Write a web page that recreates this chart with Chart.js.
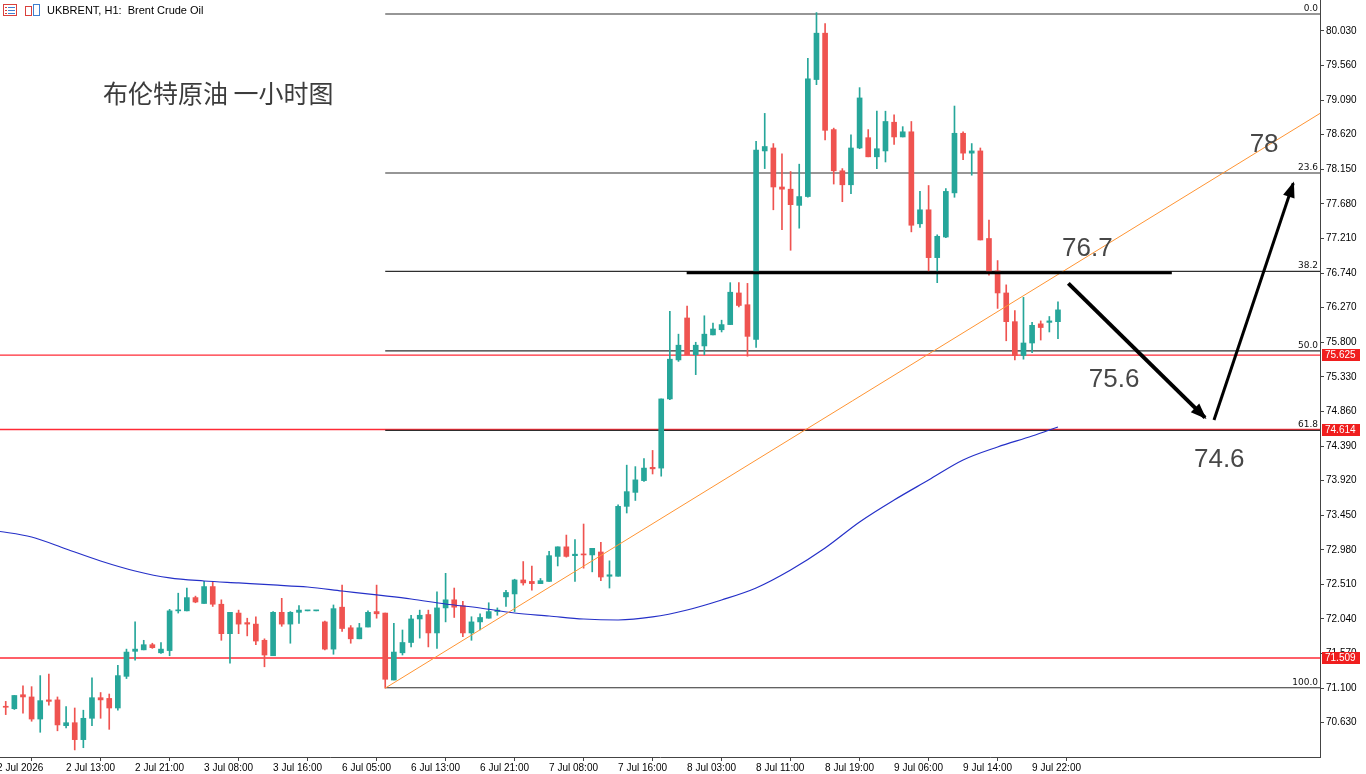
<!DOCTYPE html>
<html>
<head>
<meta charset="utf-8">
<script src="https://cdn.jsdelivr.net/npm/chart.js@4.4.1/dist/chart.umd.min.js"></script>
<style>
html, body { margin: 0; padding: 0; background: #fff; }
#wrap { width: 1366px; height: 774px; }
</style>
</head>
<body>
<div id="wrap"><canvas id="chart" width="1366" height="774"></canvas></div>
<script>
// UKBRENT H1 candles, bar 1 .. 123
const opens = [70.85,70.82,71.01,70.98,70.68,70.94,70.94,70.59,70.63,70.40,70.69,70.97,70.96,70.83,71.26,71.60,71.62,71.69,71.58,71.61,
  72.15,72.15,72.33,72.25,72.48,72.24,71.84,72.12,71.99,71.97,71.75,71.54,72.13,71.97,72.13,72.15,72.15,72.00,71.63,72.20,
  71.92,71.77,71.93,72.14,72.12,71.21,71.58,71.72,72.04,72.10,71.85,72.19,72.30,72.22,71.85,72.00,72.05,72.14,72.34,72.38,
  72.57,72.55,72.52,72.55,72.89,73.02,72.90,72.92,72.91,72.95,72.62,72.62,73.57,73.76,73.92,74.10,74.09,75.03,75.56,76.13,
  75.63,75.75,75.90,75.97,76.04,76.47,76.31,75.84,78.40,78.44,77.91,77.88,77.66,77.78,79.37,80.00,78.69,78.13,77.94,78.44,
  78.58,78.32,78.40,78.79,78.59,78.66,77.41,77.60,76.95,77.23,77.83,78.64,78.37,78.40,77.21,76.77,76.47,76.08,75.62,75.79,
  76.05,76.07,76.08];
const highs = [70.92,71.00,71.13,71.12,71.27,71.29,70.98,70.85,70.83,70.80,71.24,71.04,71.02,71.41,71.63,72.00,71.75,71.71,71.72,72.17,
  72.39,72.46,72.35,72.55,72.55,72.30,72.13,72.16,72.05,72.07,71.77,72.14,72.32,72.14,72.22,72.15,72.15,72.01,72.23,72.50,
  71.95,71.98,72.15,72.50,72.12,71.98,71.89,72.09,72.16,72.16,72.41,72.66,72.46,72.28,72.07,72.11,72.26,72.19,72.43,72.58,
  72.82,72.76,72.59,72.96,73.02,73.18,73.12,73.33,73.00,73.08,72.83,73.59,74.13,74.11,74.22,74.33,75.03,76.22,75.91,76.29,
  75.80,76.16,76.06,76.10,76.61,76.61,76.60,78.53,78.91,78.50,78.36,78.12,78.22,79.66,80.28,80.13,78.71,78.16,78.62,79.26,
  78.69,78.94,78.94,78.89,78.73,78.80,77.85,77.93,77.26,77.89,79.01,78.66,78.50,78.44,77.46,76.91,76.58,76.23,76.41,76.07,
  76.09,76.15,76.35];
const lows = [70.74,70.81,70.76,70.65,70.50,70.87,70.52,70.56,70.26,70.29,70.59,70.69,70.54,70.80,71.23,71.48,71.62,71.64,71.57,71.54,
  72.12,72.15,72.26,72.25,72.21,71.75,71.44,71.84,71.81,71.69,71.39,71.54,71.94,71.71,71.98,72.15,72.15,71.62,71.56,71.87,
  71.71,71.77,71.93,72.05,71.10,71.21,71.55,71.66,71.78,71.66,71.64,72.00,72.06,71.80,71.75,71.89,72.05,72.09,72.21,72.14,
  72.50,72.43,72.52,72.55,72.76,72.88,72.55,72.73,72.68,72.56,72.46,72.62,73.48,73.65,73.91,74.01,73.98,75.02,75.54,75.63,
  75.36,75.63,75.90,75.94,76.04,76.28,75.61,75.73,78.16,77.60,77.33,77.05,77.35,77.77,79.30,78.55,77.95,77.71,77.82,78.43,
  78.32,78.16,78.25,78.49,78.59,77.30,77.36,76.76,76.61,77.22,77.77,78.28,78.07,77.19,76.71,76.26,75.82,75.56,75.57,75.66,
  75.83,75.94,75.85];
const closes = [70.84,71.00,70.98,70.68,70.93,70.92,70.60,70.63,70.40,70.69,70.97,70.94,70.83,71.27,71.59,71.63,71.69,71.65,71.63,72.15,
  72.16,72.33,72.27,72.48,72.24,71.84,72.13,71.97,71.97,71.74,71.55,72.13,71.97,72.13,72.16,72.15,72.15,71.63,72.18,71.91,
  71.77,71.92,72.13,72.11,71.22,71.59,71.72,72.04,72.09,71.85,72.19,72.30,72.20,71.85,72.00,72.06,72.14,72.16,72.40,72.57,
  72.53,72.52,72.56,72.90,73.02,72.89,72.92,72.91,73.00,72.61,72.64,73.57,73.77,73.93,74.09,74.08,75.03,75.57,75.76,75.63,
  75.76,75.91,75.98,76.04,76.48,76.30,75.88,78.41,78.46,77.91,77.88,77.67,77.78,79.38,80.00,78.68,78.13,77.94,78.44,79.12,
  78.32,78.43,78.80,78.59,78.66,77.39,77.60,76.95,77.24,77.85,78.64,78.37,78.40,77.19,76.76,76.47,76.08,75.62,75.79,76.03,
  76.00,76.09,76.24];

// blue moving average, sampled every few bars
const maBars = [0,4,8,12,16,20,24,28,32,36,40,44,48,52,56,60,64,68,72,76,80,84,88,92,96,100,104,108,112,116,120,123];
const maValues = [73.235,73.154,72.991,72.828,72.692,72.597,72.556,72.529,72.502,72.474,72.420,72.366,72.311,72.243,72.189,72.121,
  72.080,72.039,72.026,72.067,72.162,72.298,72.461,72.705,73.004,73.358,73.656,73.928,74.200,74.377,74.526,74.649];

// axis ticks
const tickBars = [0,8,16,24,32,40,48,56,64,72,80,88,96,104,112,120];
const tickLabels = ['2 Jul 2026','2 Jul 13:00','2 Jul 21:00','3 Jul 08:00','3 Jul 16:00','6 Jul 05:00','6 Jul 13:00','6 Jul 21:00',
  '7 Jul 08:00','7 Jul 16:00','8 Jul 03:00','8 Jul 11:00','8 Jul 19:00','9 Jul 06:00','9 Jul 14:00','9 Jul 22:00'];
const yTicks = [70.63,71.10,71.57,72.04,72.51,72.98,73.45,73.92,74.39,74.86,75.33,75.80,76.27,76.74,77.21,77.68,78.15,78.62,79.09,79.56,80.03];

// fibonacci retracement from the 6 Jul low to the 8 Jul high
const fibLabels = ['0.0','23.6','38.2','50.0','61.8','100.0'];
const fibPrices = [80.261,78.100,76.763,75.683,74.603,71.105];
const fibStartBar = 45;

// horizontal price lines with their axis tags
const priceLines = [75.625, 74.614, 71.509];

// trend line from the low, resistance bar, forecast arrows
const trendBars = [45, 153.38];
const trendPrices = [71.10, 78.91];
const resistBars = [79.95, 136.2];
const resistPrice = 76.745;
const arrowBars = [[124.2, 140.05], [141.09, 150.28]];
const arrowPrices = [[76.60, 74.775], [74.744, 77.96]];
const noteTexts = ['76.7', '75.6', '74.6', '78'];
const noteBars = [126.4, 129.5, 141.7, 146.9];
const notePrices = [77.067, 75.287, 74.20, 78.481];

const X_MIN = 0.336, X_MAX = 153.38;
const UP = '#26a69a', DOWN = '#ef5350';
const AXIS_FONT = { family: 'Liberation Sans', size: 10 };

const candleColors = closes.map((c, i) => c >= opens[i] ? UP : DOWN);
const bodies = opens.map((o, i) => ({ x: i + 1, y: [o, closes[i]] }));
const wicks = lows.map((l, i) => ({ x: i + 1, y: [l, highs[i]] }));

function hLine(x0, x1, y) {
    return [{ x: x0, y: y }, { x: x1, y: y }];
}

const datasets = [];

fibPrices.forEach((p) => {
    datasets.push({ type: 'line', data: hLine(fibStartBar, X_MAX, p), borderColor: '#2e2e2e', borderWidth: 1.2,
        pointRadius: 0, order: 20 });
});
priceLines.forEach((p) => {
    datasets.push({ type: 'line', data: hLine(X_MIN, X_MAX, p), borderColor: '#ff2a36',
        borderWidth: 1.4, pointRadius: 0, order: 21 });
});

datasets.push({ type: 'bar', data: wicks, backgroundColor: candleColors, barThickness: 1, grouped: false, order: 11 });
datasets.push({ type: 'bar', data: bodies, backgroundColor: candleColors, barThickness: 5, minBarLength: 1,
    grouped: false, order: 10 });

datasets.push({ type: 'line', data: maBars.map((b, i) => ({ x: b, y: maValues[i] })), borderColor: '#2530c8',
    borderWidth: 1.2, pointRadius: 0, cubicInterpolationMode: 'monotone', order: 5 });
datasets.push({ type: 'line', data: trendBars.map((b, i) => ({ x: b, y: trendPrices[i] })), borderColor: '#ff9433',
    borderWidth: 1, pointRadius: 0, order: 4 });
datasets.push({ type: 'line', data: hLine(resistBars[0], resistBars[1], resistPrice), borderColor: '#000',
    borderWidth: 3, pointRadius: 0, order: 3 });
arrowBars.forEach((bars, k) => {
    datasets.push({ type: 'line', data: bars.map((b, i) => ({ x: b, y: arrowPrices[k][i] })), borderColor: '#000',
        borderWidth: k === 0 ? 4 : 3, pointRadius: 0, order: 2 });
});

// overlay: fib labels, price tags, notes, arrow heads, header
const overlay = {
    id: 'overlay',
    afterDraw(chart) {
        const ctx = chart.ctx;
        const xs = chart.scales.x, ys = chart.scales.y;
        const area = chart.chartArea;
        ctx.save();

        // fib level captions
        ctx.font = '9px "DejaVu Sans"';
        ctx.fillStyle = '#111';
        ctx.textAlign = 'right';
        ctx.textBaseline = 'alphabetic';
        fibPrices.forEach((p, i) => {
            ctx.fillText(fibLabels[i], area.right - 2, ys.getPixelForValue(p) - 3);
        });

        // arrow heads
        arrowBars.forEach((bars, k) => {
            const x0 = xs.getPixelForValue(bars[0]), y0 = ys.getPixelForValue(arrowPrices[k][0]);
            const x1 = xs.getPixelForValue(bars[1]), y1 = ys.getPixelForValue(arrowPrices[k][1]);
            const a = Math.atan2(y1 - y0, x1 - x0);
            const len = 14, half = 6;
            ctx.beginPath();
            ctx.moveTo(x1 + 2 * Math.cos(a), y1 + 2 * Math.sin(a));
            ctx.lineTo(x1 - len * Math.cos(a) + half * Math.sin(a), y1 - len * Math.sin(a) - half * Math.cos(a));
            ctx.lineTo(x1 - len * Math.cos(a) - half * Math.sin(a), y1 - len * Math.sin(a) + half * Math.cos(a));
            ctx.closePath();
            ctx.fillStyle = '#000';
            ctx.fill();
        });

        // price notes
        ctx.font = '26px "Liberation Sans"';
        ctx.fillStyle = '#474747';
        ctx.textAlign = 'center';
        ctx.textBaseline = 'middle';
        noteTexts.forEach((t, i) => {
            ctx.fillText(t, xs.getPixelForValue(noteBars[i]), ys.getPixelForValue(notePrices[i]));
        });

        // red tags on the price axis
        ctx.font = '10px "Liberation Sans"';
        ctx.textAlign = 'left';
        priceLines.forEach((p) => {
            const y = Math.round(ys.getPixelForValue(p));
            ctx.fillStyle = '#f01e1e';
            ctx.fillRect(area.right + 2, y - 6, 38, 12);
            ctx.fillStyle = '#fff';
            ctx.fillText(p.toFixed(3), area.right + 5, y + 0.5);
        });

        // header icons and title
        ctx.lineWidth = 1;
        ctx.strokeStyle = '#d9403c';
        ctx.strokeRect(3.5, 4.5, 13, 11);
        ctx.fillStyle = '#3f7fd0';
        ctx.fillRect(8, 7, 7, 1);
        ctx.fillRect(8, 10, 7, 1);
        ctx.fillRect(8, 13, 7, 1);
        ctx.fillStyle = '#d9403c';
        ctx.fillRect(5, 7, 2, 1);
        ctx.fillRect(5, 10, 2, 1);
        ctx.fillRect(5, 13, 2, 1);
        ctx.strokeStyle = '#d9403c';
        ctx.strokeRect(25.5, 6.5, 6, 9);
        ctx.strokeStyle = '#3f7fd0';
        ctx.strokeRect(33.5, 4.5, 6, 11);

        ctx.fillStyle = '#000';
        ctx.font = '11px "Liberation Sans"';
        ctx.textBaseline = 'middle';
        ctx.fillText('UKBRENT, H1:  Brent Crude Oil', 47, 11);

        ctx.fillStyle = '#3c3c3c';
        ctx.font = '25px "Noto Sans CJK SC"';
        ctx.fillText('布伦特原油 一小时图', 103, 93);
        ctx.restore();
    }
};

new Chart(document.getElementById('chart').getContext('2d'), {
    type: 'bar',
    data: { datasets: datasets },
    options: {
        responsive: false,
        animation: false,
        events: [],
        devicePixelRatio: 1,
        layout: { padding: 0 },
        plugins: { legend: { display: false }, tooltip: { enabled: false }, title: { display: false } },
        scales: {
            x: {
                type: 'linear',
                min: X_MIN,
                max: X_MAX,
                offset: false,
                grid: { drawOnChartArea: false, drawTicks: true, tickLength: 4, color: '#444' },
                border: { color: '#444' },
                ticks: {
                    align: 'start', autoSkip: false, maxRotation: 0, padding: 1, color: '#000', font: AXIS_FONT,
                    callback: (v) => tickLabels[tickBars.indexOf(v)] || ''
                },
                afterBuildTicks: (s) => { s.ticks = tickBars.map((v) => ({ value: v })); },
                afterFit: (s) => { s.height = 17; s.paddingLeft = 0; s.paddingRight = 0; }
            },
            y: {
                type: 'linear',
                position: 'right',
                min: 70.164,
                max: 80.451,
                grid: { drawOnChartArea: false, drawTicks: true, tickLength: 4, color: '#444' },
                border: { color: '#444' },
                ticks: { padding: 2, color: '#000', font: AXIS_FONT, callback: (v) => Number(v).toFixed(3) },
                afterBuildTicks: (s) => { s.ticks = yTicks.map((v) => ({ value: v })); },
                afterFit: (s) => { s.width = 46; s.paddingTop = 0; s.paddingBottom = 0; }
            }
        }
    },
    plugins: [overlay]
});
</script>
</body>
</html>
